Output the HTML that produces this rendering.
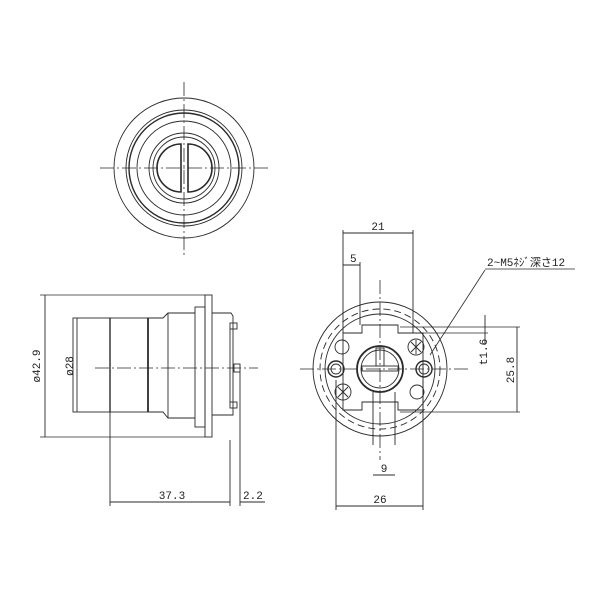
<!DOCTYPE html>
<html><head><meta charset="utf-8"><style>
body{margin:0;background:#fff}
svg{display:block}
text{font-family:"Liberation Mono","Noto Sans CJK JP",monospace;font-size:11px;fill:#222}
</style></head><body>
<svg width="600" height="600" viewBox="0 0 600 600" stroke="#2a2a2a" fill="none" stroke-width="0.9">
<!-- Top view -->
<g>
<line x1="184" y1="82" x2="184" y2="255" stroke-dasharray="14,3,2,3" stroke-width="0.8"/>
<line x1="100" y1="168" x2="270" y2="168" stroke-dasharray="14,3,2,3" stroke-width="0.8"/>
<circle cx="184" cy="168" r="70"/>
<circle cx="184" cy="168" r="58"/>
<circle cx="184" cy="168" r="55" stroke-width="1.4"/>
<circle cx="184" cy="168" r="47"/>
<circle cx="184" cy="168" r="35"/>
<circle cx="184" cy="168" r="31"/>
<path d="M181 144 A24 24 0 0 0 181 192 Z" stroke-width="1.6"/>
<path d="M188 144 A24 24 0 0 1 188 192 Z" stroke-width="1.6"/>
</g>
<!-- Side view -->
<g>
<rect x="73" y="318" width="37" height="94"/>
<line x1="110" y1="318" x2="110" y2="412" stroke-width="1.4"/>
<rect x="110" y="318" width="38" height="94"/>
<line x1="148" y1="318" x2="148" y2="412" stroke-width="1.8"/>
<path d="M148 318 H163 L168 313 H195 M148 412 H163 L168 418 H195"/>
<line x1="168" y1="313" x2="168" y2="418"/>
<rect x="195" y="307" width="10" height="120"/>
<rect x="205" y="295" width="7" height="142"/>
<path d="M212 313 H231 L233 316 V415 H212"/>
<rect x="230" y="323" width="7" height="6"/>
<rect x="230" y="402" width="7" height="6"/>
<line x1="230" y1="329" x2="230" y2="402"/>
<rect x="234" y="364" width="6" height="8"/>
<line x1="240" y1="372" x2="240" y2="506"/>
<line x1="230" y1="440" x2="230" y2="506"/>
<line x1="110" y1="412" x2="110" y2="506"/>
<line x1="95" y1="368" x2="258" y2="368" stroke-dasharray="14,3,2,3" stroke-width="0.8"/>
<line x1="45" y1="295" x2="45" y2="437"/>
<line x1="40" y1="295" x2="205" y2="295" stroke-width="0.8"/>
<line x1="40" y1="437" x2="205" y2="437" stroke-width="0.8"/>
<line x1="77" y1="318" x2="77" y2="412"/>
<line x1="110" y1="502" x2="230" y2="502"/>
<line x1="240" y1="502" x2="265" y2="502"/>
</g>
<text transform="translate(40,366) rotate(-90)" text-anchor="middle" stroke="none">ø42.9</text>
<text transform="translate(73,366) rotate(-90)" text-anchor="middle" stroke="none">ø28</text>
<text x="172" y="499" text-anchor="middle" stroke="none">37.3</text>
<text x="243" y="499" stroke="none">2.2</text>
<!-- Right view -->
<g>
<line x1="380" y1="280" x2="380" y2="460" stroke-dasharray="14,3,2,3" stroke-width="0.8"/>
<line x1="300" y1="369" x2="470" y2="369" stroke-dasharray="14,3,2,3" stroke-width="0.8"/>
<circle cx="380" cy="369" r="67"/>
<circle cx="380" cy="369" r="60" stroke-dasharray="7,4"/>
<circle cx="380" cy="369" r="55"/>
<path d="M343 333 H362 V325 H398 V333 H423 V410 H398 V402 H362 V410 H343 Z"/>
<circle cx="380" cy="369" r="23" stroke-width="1.8"/>
<circle cx="380" cy="369" r="19"/>
<rect x="362" y="366" width="36" height="5"/>
<rect x="376" y="348" width="8" height="18"/>
<path d="M373 392 V445 M395 392 V445"/>
<circle cx="342" cy="347" r="7"/>
<circle cx="416" cy="347" r="8"/>
<path d="M411 342 L421 352 M421 342 L411 352 M416 340 V354"/>
<circle cx="336" cy="369" r="8" stroke-width="1.4"/><circle cx="336" cy="369" r="5"/>
<circle cx="424" cy="369" r="8" stroke-width="1.4"/><circle cx="424" cy="369" r="5"/>
<circle cx="343" cy="392" r="8"/>
<path d="M338 387 L348 397 M348 387 L338 397 M343 385 V399"/>
<circle cx="417" cy="392" r="7"/>
<line x1="343" y1="230" x2="343" y2="333"/>
<line x1="413" y1="230" x2="413" y2="333"/>
<line x1="343" y1="233" x2="413" y2="233"/>
<line x1="343" y1="265" x2="360" y2="265"/>
<line x1="360" y1="262" x2="360" y2="325"/>
<line x1="398" y1="333" x2="488" y2="333" stroke-width="0.8"/>
<line x1="400" y1="327" x2="520" y2="327" stroke-width="0.8"/>
<line x1="400" y1="412" x2="520" y2="412" stroke-width="0.8"/>
<line x1="517" y1="327" x2="517" y2="412"/>
<line x1="485" y1="315" x2="485" y2="345"/>
<line x1="485" y1="270" x2="430" y2="355" stroke-width="0.8"/>
<line x1="485" y1="269" x2="575" y2="269" stroke-width="0.8"/>
<line x1="373" y1="475" x2="395" y2="475"/>
<line x1="336" y1="380" x2="336" y2="510"/>
<line x1="423" y1="380" x2="423" y2="510"/>
<line x1="336" y1="506" x2="423" y2="506"/>
</g>
<text x="378" y="230" text-anchor="middle" stroke="none">21</text>
<text x="350" y="262" stroke="none">5</text>
<text x="487" y="266" stroke="none" font-size="10">2~M5ﾈｼﾞ深さ12</text>
<text transform="translate(487,352) rotate(-90)" text-anchor="middle" stroke="none">t1.6</text>
<text transform="translate(514,370) rotate(-90)" text-anchor="middle" stroke="none">25.8</text>
<text x="384" y="472" text-anchor="middle" stroke="none">9</text>
<text x="380" y="503" text-anchor="middle" stroke="none">26</text>
</svg>
</body></html>
